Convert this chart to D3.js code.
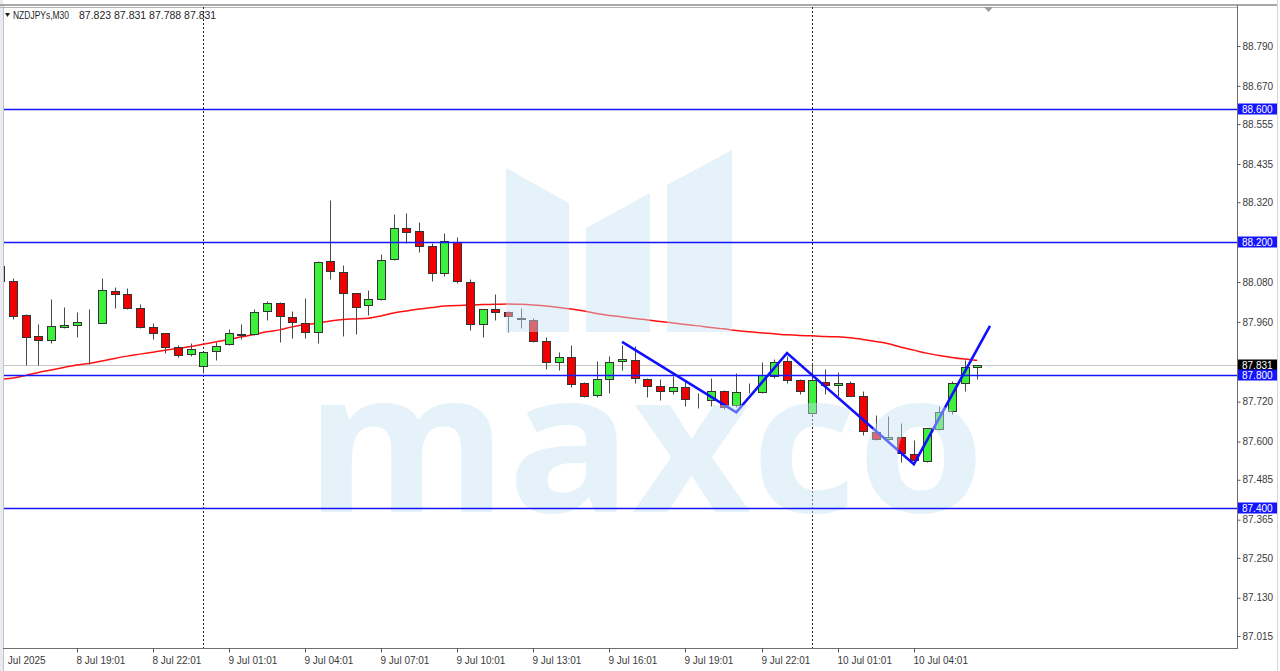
<!DOCTYPE html>
<html><head><meta charset="utf-8">
<script src="https://cdn.jsdelivr.net/npm/d3@7"></script>
<style>html,body{margin:0;padding:0;background:#fff;overflow:hidden}</style>
</head><body>
<svg id="c" width="1280" height="671"></svg>
<script>
const symbolTitle = "NZDJPYs,M30";
const headerValues = "87.823 87.831 87.788 87.831";
const opens  = [88.128,88.084,87.981,87.918,87.906,87.946,87.951,87.962,87.958,88.053,88.044,88.003,87.946,87.927,87.884,87.863,87.828,87.872,87.893,87.922,87.924,87.994,88.018,87.976,87.958,87.931,88.143,88.111,88.046,88.011,88.029,88.148,88.242,88.234,88.189,88.108,88.201,88.081,87.954,87.999,87.991,87.972,87.966,87.903,87.840,87.853,87.775,87.739,87.787,87.842,87.845,87.788,87.767,87.753,87.765,87.727,87.725,87.752,87.710,87.748,87.748,87.797,87.842,87.785,87.685,87.778,87.769,87.777,87.738,87.630,87.607,87.613,87.563,87.542,87.637,87.693,87.777,87.823];
const highs  = [88.130,88.091,87.983,87.953,88.028,88.006,87.991,87.998,88.091,88.066,88.063,88.014,87.958,87.928,87.890,87.896,87.870,87.900,87.938,87.953,87.999,88.023,88.020,87.994,88.031,88.143,88.327,88.131,88.048,88.056,88.164,88.285,88.287,88.260,88.196,88.228,88.216,88.088,88.000,88.043,87.993,88.001,87.973,87.915,87.869,87.890,87.780,87.842,87.857,87.890,87.887,87.792,87.787,87.798,87.785,87.745,87.792,87.755,87.805,87.777,87.840,87.848,87.857,87.787,87.835,87.817,87.810,87.782,87.753,87.680,87.677,87.655,87.605,87.641,87.707,87.782,87.845,87.831];
const lows   = [88.078,87.968,87.830,87.830,87.896,87.941,87.915,87.832,87.956,88.001,87.998,87.942,87.908,87.865,87.855,87.858,87.805,87.845,87.890,87.908,87.922,87.966,87.900,87.911,87.911,87.896,88.088,87.918,87.924,87.981,88.027,88.146,88.196,88.171,88.084,88.098,88.076,87.936,87.915,87.966,87.931,87.941,87.900,87.817,87.815,87.765,87.733,87.735,87.745,87.815,87.775,87.735,87.725,87.742,87.707,87.700,87.707,87.698,87.703,87.745,87.746,87.790,87.775,87.742,87.683,87.742,87.737,87.736,87.620,87.606,87.605,87.539,87.540,87.539,87.635,87.683,87.753,87.788];
const closes = [88.082,87.979,87.915,87.905,87.949,87.950,87.961,87.964,88.056,88.044,88.001,87.944,87.927,87.885,87.860,87.878,87.869,87.888,87.926,87.924,87.989,88.016,87.978,87.961,87.931,88.141,88.114,88.046,88.006,88.028,88.146,88.242,88.231,88.189,88.108,88.204,88.083,87.954,87.999,87.991,87.978,87.970,87.903,87.840,87.853,87.772,87.737,87.787,87.840,87.848,87.792,87.768,87.753,87.765,87.727,87.729,87.752,87.705,87.748,87.749,87.800,87.840,87.785,87.752,87.785,87.770,87.775,87.738,87.633,87.608,87.613,87.565,87.545,87.640,87.690,87.775,87.825,87.831];
const maValues = [87.787,87.791,87.799,87.808,87.815,87.823,87.830,87.835,87.842,87.850,87.857,87.863,87.869,87.875,87.880,87.886,87.893,87.900,87.907,87.915,87.922,87.930,87.936,87.945,87.952,87.956,87.963,87.967,87.969,87.971,87.978,87.987,87.993,87.999,88.003,88.008,88.009,88.011,88.012,88.013,88.014,88.013,88.011,88.008,88.003,87.999,87.993,87.985,87.979,87.975,87.970,87.966,87.961,87.957,87.952,87.948,87.943,87.939,87.934,87.930,87.927,87.924,87.921,87.919,87.918,87.916,87.915,87.912,87.907,87.901,87.894,87.884,87.875,87.866,87.859,87.853,87.848,87.844];
const priceTicks = [88.790,88.670,88.555,88.435,88.320,88.080,87.960,87.720,87.600,87.485,87.365,87.250,87.130,87.015];
const levelLines = [88.600,88.200,87.800,87.400];
const currentPrice = 87.831;
const timeTickIndex = [0,6,12,18,24,30,36,42,48,54,60,66,72];
const timeTickLabels = ["8 Jul 2025","8 Jul 19:01","8 Jul 22:01","9 Jul 01:01","9 Jul 04:01","9 Jul 07:01","9 Jul 10:01","9 Jul 13:01","9 Jul 16:01","9 Jul 19:01","9 Jul 22:01","10 Jul 01:01","10 Jul 04:01"];
const separatorIndex = [16,64];
const zigzagIndex = [49,58,62,72,78];
const zigzagPrice = [87.900,87.688,87.866,87.532,87.948];
const watermarkText = "maxco";

const W = 1280, H = 671;
const L = 4, R = 1237, T = 7, B = 648;
const FONT = "'Liberation Sans', Arial, sans-serif";
const svg = d3.select("#c");

const x = d3.scaleLinear().domain([0, 77]).range([0.4, 977.3]);
const y = d3.scaleLinear().domain([87.015, 88.790]).range([636, 46]);
const px = v => Math.round(x(v)) + 0.5;
const py = v => Math.round(y(v)) + 0.5;

svg.append("rect").attr("width", W).attr("height", H).attr("fill", "#fff");
const defs = svg.append("defs");
defs.append("clipPath").attr("id", "plot").append("rect").attr("x", L).attr("y", T).attr("width", R - L).attr("height", B - T);
defs.append("clipPath").attr("id", "xax").append("rect").attr("x", 5).attr("y", B).attr("width", R - 5).attr("height", H - B);

// side strips / frame
svg.append("rect").attr("x", 0).attr("y", 0).attr("width", 3).attr("height", H).attr("fill", "#e9ebf2");
svg.append("line").attr("x1", 3.5).attr("x2", 3.5).attr("y1", 5).attr("y2", H).attr("stroke", "#c4c4c4");
svg.append("line").attr("x1", 1277.5).attr("x2", 1277.5).attr("y1", 0).attr("y2", H).attr("stroke", "#d6d6d6");
svg.append("line").attr("x1", 0).attr("x2", 1277).attr("y1", 5).attr("y2", 5).attr("stroke", "#8c8c8c").attr("stroke-width", 1.5);
svg.append("line").attr("x1", 0).attr("x2", 1237).attr("y1", 7.5).attr("y2", 7.5).attr("stroke", "#b4b4b4");

const plot = svg.append("g").attr("clip-path", "url(#plot)");

// current price line
plot.append("line").attr("x1", L).attr("x2", R).attr("y1", py(currentPrice)).attr("y2", py(currentPrice))
  .attr("stroke", "#c8c8c8").attr("stroke-width", 1);

// period separators
separatorIndex.forEach(i => {
  plot.append("line").attr("x1", px(i)).attr("x2", px(i)).attr("y1", T).attr("y2", B)
    .attr("stroke", "#222").attr("stroke-width", 1).attr("stroke-dasharray", "2,2");
});

// MA line
const ma = d3.line().x((d, i) => x(i)).y(d => y(d)).curve(d3.curveMonotoneX);
plot.append("path").datum(maValues).attr("d", ma).attr("fill", "none").attr("stroke", "#ff1010").attr("stroke-width", 1.5);

// candles
const idx = d3.range(opens.length);
const cg = plot.append("g");
cg.selectAll("line.w").data(idx).join("line").attr("class", "w")
  .attr("x1", i => px(i)).attr("x2", i => px(i))
  .attr("y1", i => py(highs[i])).attr("y2", i => py(lows[i]))
  .attr("stroke", "#4a4a4a").attr("stroke-width", 1);
cg.selectAll("rect.b").data(idx).join("rect").attr("class", "b")
  .attr("x", i => px(i) - 4)
  .attr("width", 8)
  .attr("y", i => py(Math.max(opens[i], closes[i])))
  .attr("height", i => Math.max(0, Math.round(y(Math.min(opens[i], closes[i]))) - Math.round(y(Math.max(opens[i], closes[i])))))
  .attr("fill", i => closes[i] >= opens[i] ? "#3cf03c" : "#f00000")
  .attr("stroke", "#333").attr("stroke-width", 1);

// zigzag trendlines
const zz = d3.line().x(d => x(d[0])).y(d => y(d[1]));
plot.append("path").datum(zigzagIndex.map((k, i) => [k, zigzagPrice[i]])).attr("d", zz)
  .attr("fill", "none").attr("stroke", "#1010ff").attr("stroke-width", 2.6).attr("stroke-linejoin", "miter");

// watermark overlay
const wm = plot.append("g").attr("fill", "rgb(200,226,245)").attr("fill-opacity", 0.45);
wm.append("polygon").attr("points", "506,168 569,203 569,332 506,332");
wm.append("polygon").attr("points", "586,228 650,193 650,332 586,332");
wm.append("polygon").attr("points", "667,185 732,150 732,332 667,332");
wm.append("text").attr("x", 305).attr("y", 512).attr("font-family", "'Open Sans', sans-serif")
  .attr("font-weight", 700).attr("font-size", 196).attr("textLength", 680).attr("lengthAdjust", "spacingAndGlyphs")
  .text(watermarkText);

// level lines
levelLines.forEach(p => {
  plot.append("line").attr("x1", L).attr("x2", R).attr("y1", py(p)).attr("y2", py(p))
    .attr("stroke", "#1414ff").attr("stroke-width", 1.6);
});

// chart shift marker
svg.append("polygon").attr("points", "984,7 993,7 988.5,12").attr("fill", "#9a9a9a");

// plot border
svg.append("line").attr("x1", R + 0.5).attr("x2", R + 0.5).attr("y1", 5).attr("y2", B + 1).attr("stroke", "#6e6e6e");
svg.append("line").attr("x1", 3).attr("x2", R + 1).attr("y1", B + 0.5).attr("y2", B + 0.5).attr("stroke", "#6e6e6e");

// right axis
const ya = svg.append("g").attr("transform", `translate(${R + 0.5},0)`)
  .call(d3.axisRight(y).tickValues(priceTicks).tickFormat(d3.format(".3f")).tickSize(3).tickPadding(2));
ya.select(".domain").remove();
ya.selectAll("line").attr("stroke", "#555");
ya.selectAll("text").attr("font-family", FONT).attr("font-size", 10).attr("fill", "#3a3a3a");

// bottom axis (clip applied on an untransformed parent)
const xaWrap = svg.append("g").attr("clip-path", "url(#xax)");
const xa = xaWrap.append("g").attr("transform", `translate(0,${B + 0.5})`)
  .call(d3.axisBottom(x).tickValues(timeTickIndex).tickFormat((d, i) => timeTickLabels[i]).tickSize(4));
xa.select(".domain").remove();
xa.selectAll(".tick").attr("transform", d => `translate(${px(d)},0)`);
xa.selectAll("line").attr("stroke", "#555");
xa.selectAll("text").attr("font-family", FONT).attr("font-size", 10).attr("fill", "#3a3a3a")
  .attr("text-anchor", "start").attr("x", -1).attr("y", 8).attr("dy", "0.71em");

// price boxes
const boxes = svg.append("g");
function priceBox(p, fill) {
  const cy = Math.round(y(p));
  boxes.append("rect").attr("x", R + 1).attr("y", cy - 5.5).attr("width", 39).attr("height", 11).attr("fill", fill);
  boxes.append("text").attr("x", R + 5).attr("y", cy).attr("dy", "0.35em").attr("font-family", FONT)
    .attr("font-size", 10).attr("fill", "#fff").text(d3.format(".3f")(p));
}
priceBox(currentPrice, "#000");
levelLines.forEach(p => priceBox(p, "#1414ff"));

// header
svg.append("polygon").attr("points", "5,13 10,13 7.5,17").attr("fill", "#222");
svg.append("text").attr("x", 13).attr("y", 18.5).attr("font-family", FONT).attr("font-size", 10)
  .attr("fill", "#1e1e28").attr("textLength", 56).attr("lengthAdjust", "spacingAndGlyphs").text(symbolTitle);
svg.append("text").attr("x", 79).attr("y", 18.5).attr("font-family", FONT).attr("font-size", 10.5)
  .attr("fill", "#1e1e28").text(headerValues);
</script>
</body></html>
